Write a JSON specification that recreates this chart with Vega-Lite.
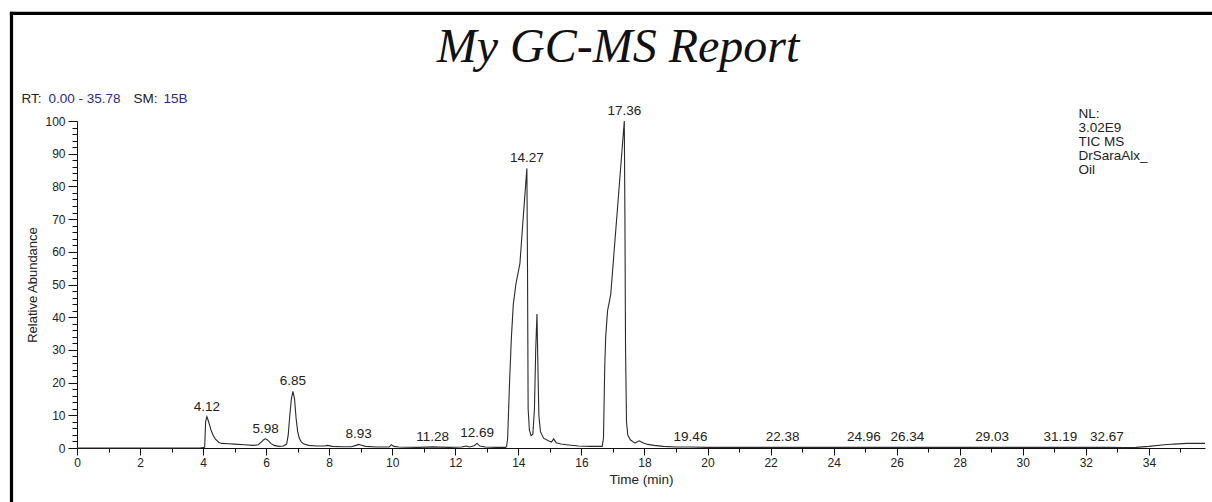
{
  "$schema": "https://vega.github.io/schema/vega-lite/v6.json",
  "width": 1128,
  "height": 327,
  "autosize": "none",
  "padding": {"left": 77, "top": 121, "right": 7, "bottom": 54},
  "background": "white",
  "config": {"view": {"stroke": null}, "font": "Liberation Sans"},
  "title": {
    "text": "My GC-MS Report",
    "font": "Liberation Serif",
    "fontStyle": "italic",
    "fontWeight": "normal",
    "fontSize": 48,
    "color": "#111",
    "anchor": "middle",
    "dx": -23,
    "dy": 66
  },
  "datasets": {
    "trace": [
      {"time": 0, "abundance": 0}, {"time": 1, "abundance": 0}, {"time": 2, "abundance": 0}, {"time": 3, "abundance": 0},
      {"time": 3.9, "abundance": 0}, {"time": 4.05, "abundance": 0.2}, {"time": 4.08, "abundance": 8.0},
      {"time": 4.12, "abundance": 9.6}, {"time": 4.15, "abundance": 8.8}, {"time": 4.2, "abundance": 7.2},
      {"time": 4.25, "abundance": 5.5}, {"time": 4.32, "abundance": 3.8}, {"time": 4.4, "abundance": 2.6},
      {"time": 4.5, "abundance": 1.7}, {"time": 4.6, "abundance": 1.4}, {"time": 4.8, "abundance": 1.3},
      {"time": 5.0, "abundance": 1.2}, {"time": 5.3, "abundance": 1.0}, {"time": 5.6, "abundance": 0.8},
      {"time": 5.75, "abundance": 1.0}, {"time": 5.85, "abundance": 1.9}, {"time": 5.93, "abundance": 2.6},
      {"time": 5.98, "abundance": 2.8}, {"time": 6.05, "abundance": 2.4}, {"time": 6.15, "abundance": 1.4},
      {"time": 6.25, "abundance": 0.8}, {"time": 6.4, "abundance": 0.5}, {"time": 6.55, "abundance": 0.6},
      {"time": 6.65, "abundance": 1.2}, {"time": 6.7, "abundance": 4}, {"time": 6.75, "abundance": 10},
      {"time": 6.8, "abundance": 15}, {"time": 6.85, "abundance": 17.3}, {"time": 6.9, "abundance": 15},
      {"time": 6.95, "abundance": 9}, {"time": 7.0, "abundance": 5}, {"time": 7.05, "abundance": 3},
      {"time": 7.12, "abundance": 1.8}, {"time": 7.2, "abundance": 1.2}, {"time": 7.35, "abundance": 0.8},
      {"time": 7.6, "abundance": 0.6}, {"time": 7.85, "abundance": 0.6}, {"time": 7.95, "abundance": 0.8},
      {"time": 8.1, "abundance": 0.5}, {"time": 8.4, "abundance": 0.4}, {"time": 8.7, "abundance": 0.4},
      {"time": 8.85, "abundance": 0.8}, {"time": 8.93, "abundance": 1.1}, {"time": 9.0, "abundance": 0.9},
      {"time": 9.15, "abundance": 0.5}, {"time": 9.5, "abundance": 0.3}, {"time": 9.9, "abundance": 0.3},
      {"time": 9.97, "abundance": 1.0}, {"time": 10.05, "abundance": 0.5}, {"time": 10.2, "abundance": 0.3},
      {"time": 10.8, "abundance": 0.2}, {"time": 11.28, "abundance": 0.35}, {"time": 11.8, "abundance": 0.2},
      {"time": 12.2, "abundance": 0.3}, {"time": 12.35, "abundance": 0.6}, {"time": 12.45, "abundance": 0.3},
      {"time": 12.6, "abundance": 0.7}, {"time": 12.69, "abundance": 1.4}, {"time": 12.78, "abundance": 0.6},
      {"time": 12.95, "abundance": 0.3}, {"time": 13.3, "abundance": 0.2}, {"time": 13.6, "abundance": 0.2},
      {"time": 13.63, "abundance": 0.5}, {"time": 13.66, "abundance": 3}, {"time": 13.72, "abundance": 20},
      {"time": 13.78, "abundance": 34}, {"time": 13.84, "abundance": 44}, {"time": 13.92, "abundance": 50},
      {"time": 14.0, "abundance": 54}, {"time": 14.05, "abundance": 56.5}, {"time": 14.15, "abundance": 70},
      {"time": 14.27, "abundance": 85.5}, {"time": 14.29, "abundance": 55}, {"time": 14.31, "abundance": 12},
      {"time": 14.35, "abundance": 5.5}, {"time": 14.4, "abundance": 3.8}, {"time": 14.46, "abundance": 4.2},
      {"time": 14.51, "abundance": 12}, {"time": 14.55, "abundance": 30}, {"time": 14.59, "abundance": 41},
      {"time": 14.62, "abundance": 25}, {"time": 14.65, "abundance": 10}, {"time": 14.7, "abundance": 5},
      {"time": 14.8, "abundance": 3}, {"time": 14.95, "abundance": 2.2}, {"time": 15.05, "abundance": 1.8},
      {"time": 15.12, "abundance": 2.8}, {"time": 15.2, "abundance": 1.6}, {"time": 15.35, "abundance": 1.2},
      {"time": 15.6, "abundance": 0.9}, {"time": 15.9, "abundance": 0.6}, {"time": 16.3, "abundance": 0.5},
      {"time": 16.66, "abundance": 0.5}, {"time": 16.7, "abundance": 3}, {"time": 16.74, "abundance": 25},
      {"time": 16.77, "abundance": 34}, {"time": 16.83, "abundance": 42}, {"time": 16.93, "abundance": 47},
      {"time": 17.15, "abundance": 74}, {"time": 17.36, "abundance": 100}, {"time": 17.38, "abundance": 70},
      {"time": 17.4, "abundance": 30}, {"time": 17.43, "abundance": 8}, {"time": 17.47, "abundance": 4},
      {"time": 17.55, "abundance": 2.5}, {"time": 17.7, "abundance": 1.5}, {"time": 17.83, "abundance": 2.2},
      {"time": 17.95, "abundance": 1.6}, {"time": 18.1, "abundance": 1.1}, {"time": 18.3, "abundance": 0.8},
      {"time": 18.6, "abundance": 0.5}, {"time": 19.0, "abundance": 0.3}, {"time": 19.46, "abundance": 0.3},
      {"time": 20, "abundance": 0.2}, {"time": 21, "abundance": 0.2}, {"time": 22.38, "abundance": 0.2},
      {"time": 23, "abundance": 0.2}, {"time": 24.96, "abundance": 0.2}, {"time": 26.34, "abundance": 0.2},
      {"time": 28, "abundance": 0.2}, {"time": 29.03, "abundance": 0.2}, {"time": 31.19, "abundance": 0.2},
      {"time": 32.67, "abundance": 0.2}, {"time": 33.2, "abundance": 0.1}, {"time": 33.6, "abundance": 0.2},
      {"time": 34.0, "abundance": 0.5}, {"time": 34.4, "abundance": 0.9}, {"time": 34.8, "abundance": 1.2},
      {"time": 35.2, "abundance": 1.4}, {"time": 35.78, "abundance": 1.4}
    ],
    "peaks": [
      {"time": 4.12, "abundance": 9.6, "label": "4.12"},
      {"time": 5.98, "abundance": 2.8, "label": "5.98"},
      {"time": 6.85, "abundance": 17.3, "label": "6.85"},
      {"time": 8.93, "abundance": 1.1, "label": "8.93"},
      {"time": 11.28, "abundance": 0.35, "label": "11.28"},
      {"time": 12.69, "abundance": 1.4, "label": "12.69"},
      {"time": 14.27, "abundance": 85.5, "label": "14.27"},
      {"time": 17.36, "abundance": 100, "label": "17.36"},
      {"time": 19.46, "abundance": 0.3, "label": "19.46"},
      {"time": 22.38, "abundance": 0.2, "label": "22.38"},
      {"time": 24.96, "abundance": 0.2, "label": "24.96"},
      {"time": 26.34, "abundance": 0.2, "label": "26.34"},
      {"time": 29.03, "abundance": 0.2, "label": "29.03"},
      {"time": 31.19, "abundance": 0.2, "label": "31.19"},
      {"time": 32.67, "abundance": 0.2, "label": "32.67"}
    ]
  },
  "resolve": {"axis": {"x": "independent", "y": "independent"}},
  "layer": [
    {
      "data": {"name": "trace"},
      "mark": {"type": "line", "color": "#2a2a2a", "strokeWidth": 1.1, "clip": false},
      "encoding": {
        "x": {
          "field": "time", "type": "quantitative",
          "scale": {"domain": [0, 35.78], "nice": false, "zero": false},
          "axis": {
            "orient": "bottom",
            "values": [0,0.5,1,1.5,2,2.5,3,3.5,4,4.5,5,5.5,6,6.5,7,7.5,8,8.5,9,9.5,10,10.5,11,11.5,12,12.5,13,13.5,14,14.5,15,15.5,16,16.5,17,17.5,18,18.5,19,19.5,20,20.5,21,21.5,22,22.5,23,23.5,24,24.5,25,25.5,26,26.5,27,27.5,28,28.5,29,29.5,30,30.5,31,31.5,32,32.5,33,33.5,34,34.5,35,35.5],
            "format": "d",
            "labelExpr": "datum.value % 2 === 0 ? datum.label : ''",
            "tickSize": {"condition": {"test": "datum.value % 2 === 0", "value": 7}, "value": 4},
            "tickColor": "#111", "tickWidth": 1,
            "domainColor": "#111", "domainWidth": 1,
            "grid": false,
            "labelFont": "Liberation Sans", "labelFontSize": 12, "labelColor": "#222",
            "labelPadding": 2, "labelOverlap": false, "labelFlush": false, "labelBound": false,
            "title": "Time (min)", "titleFont": "Liberation Sans", "titleFontSize": 13.5,
            "titleFontWeight": "normal", "titleColor": "#222", "titlePadding": 4
          }
        },
        "y": {
          "field": "abundance", "type": "quantitative",
          "scale": {"domain": [0, 100], "nice": false},
          "axis": {
            "orient": "left",
            "values": [0,2,4,6,8,10,12,14,16,18,20,22,24,26,28,30,32,34,36,38,40,42,44,46,48,50,52,54,56,58,60,62,64,66,68,70,72,74,76,78,80,82,84,86,88,90,92,94,96,98,100],
            "format": "d",
            "labelExpr": "datum.value % 10 === 0 ? datum.label : ''",
            "tickSize": {"condition": {"test": "datum.value % 10 === 0", "value": 9}, "value": 5},
            "tickColor": "#111", "tickWidth": 1,
            "domainColor": "#111", "domainWidth": 1,
            "grid": false,
            "labelFont": "Liberation Sans", "labelFontSize": 12, "labelColor": "#222",
            "labelPadding": 3, "labelOverlap": false, "labelBound": false, "labelFlush": false,
            "title": "Relative Abundance", "titleFont": "Liberation Sans", "titleFontSize": 13,
            "titleFontWeight": "normal", "titleColor": "#222", "titlePadding": 5
          }
        }
      }
    },
    {
      "data": {"name": "peaks"},
      "mark": {"type": "text", "baseline": "bottom", "dy": -3, "font": "Liberation Sans", "fontSize": 13.5, "color": "#222"},
      "encoding": {
        "x": {
          "field": "time", "type": "quantitative",
          "axis": {
            "orient": "top", "domain": false, "ticks": false, "labels": false, "grid": false,
            "title": "RT:", "titleX": -56, "titleY": -19, "titleAlign": "left", "titleBaseline": "alphabetic",
            "titleFont": "Liberation Sans", "titleFontSize": 13.5, "titleFontWeight": "normal", "titleColor": "#222"
          }
        },
        "y": {
          "field": "abundance", "type": "quantitative",
          "axis": {
            "orient": "right", "domain": false, "ticks": false, "labels": false, "grid": false,
            "title": ["NL:", "3.02E9", "TIC  MS", "DrSaraAlx_", "Oil"],
            "titleAngle": 0, "titleX": -127, "titleY": -15, "titleAlign": "left", "titleBaseline": "top",
            "titleLineHeight": 14.2,
            "titleFont": "Liberation Sans", "titleFontSize": 13.5, "titleFontWeight": "normal", "titleColor": "#222"
          }
        },
        "text": {"field": "label"}
      }
    },
    {
      "data": {"values": [{}]},
      "mark": {"type": "rule", "color": "black", "strokeWidth": 3.2, "clip": false},
      "encoding": {
        "x": {
          "datum": -2.078, "type": "quantitative",
          "axis": {
            "orient": "top", "domain": false, "ticks": false, "labels": false, "grid": false,
            "title": "0.00 - 35.78", "titleX": -29, "titleY": -19, "titleAlign": "left", "titleBaseline": "alphabetic",
            "titleFont": "Liberation Sans", "titleFontSize": 13.5, "titleFontWeight": "normal", "titleColor": "#2b2b85"
          }
        },
        "y": {
          "datum": 133.4, "type": "quantitative",
          "axis": {
            "orient": "left", "domain": false, "ticks": false, "labels": false, "grid": false,
            "title": "SM:", "titleAngle": 0, "titleX": 56, "titleY": -19, "titleAlign": "left", "titleBaseline": "alphabetic",
            "titleFont": "Liberation Sans", "titleFontSize": 13.5, "titleFontWeight": "normal", "titleColor": "#222"
          }
        },
        "y2": {"datum": -30}
      }
    },
    {
      "data": {"values": [{}]},
      "mark": {"type": "rule", "color": "black", "strokeWidth": 3.2, "clip": false},
      "encoding": {
        "x": {
          "datum": -2.13, "type": "quantitative",
          "axis": {
            "orient": "top", "domain": false, "ticks": false, "labels": false, "grid": false,
            "title": "15B", "titleX": 86, "titleY": -19, "titleAlign": "left", "titleBaseline": "alphabetic",
            "titleFont": "Liberation Sans", "titleFontSize": 13.5, "titleFontWeight": "normal", "titleColor": "#2b2b85"
          }
        },
        "x2": {"datum": 40},
        "y": {"datum": 132.9, "type": "quantitative", "axis": null}
      }
    }
  ]
}
